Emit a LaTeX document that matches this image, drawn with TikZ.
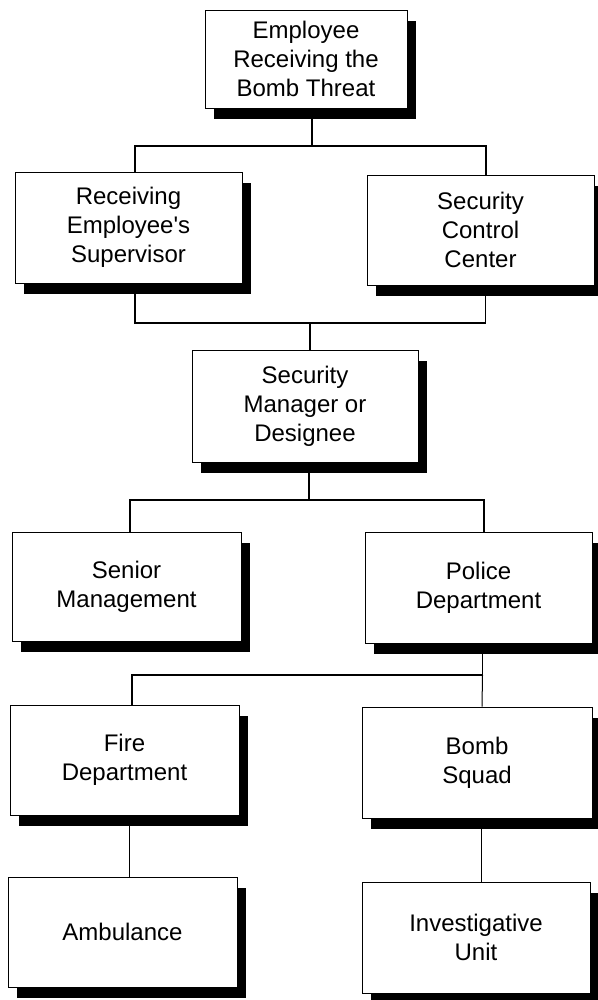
\documentclass[tikz,border=0pt]{standalone}
\usepackage{fontspec}
\setmainfont{Liberation Sans}[Ligatures=TeXOff]
\usetikzlibrary{shadows}
\begin{document}
\begin{tikzpicture}[x=1pt,y=-1pt,
  box/.style={draw=black, line width=0.8pt, fill=white, inner sep=0pt, align=center,
    font=\fontsize{24}{29}\selectfont,
    general shadow={fill=black, shadow xshift=9pt, shadow yshift=-11pt}},
  conn/.style={draw=black, line width=1.5pt},
  thin conn/.style={draw=black, line width=1pt}]
\useasboundingbox (0,0) rectangle (597,1000);
\fill[white] (0,0) rectangle (597,1000);

\node[box, minimum width=202pt, minimum height=98pt]  (top)  at (306,59)    {Employee\\Receiving the\\Bomb Threat};
\node[box, minimum width=227pt, minimum height=111pt] (sup)  at (128.5,227.5) {Receiving\\Employee's\\Supervisor};
\node[box, minimum width=227pt, minimum height=110pt] (scc)  at (480.5,230) {Security\\Control\\Center};
\node[box, minimum width=226pt, minimum height=112pt] (mgr)  at (305,406)   {Security\\Manager or\\Designee};
\node[box, minimum width=229pt, minimum height=109pt] (sen)  at (126.5,586.5) {Senior\\Management};
\node[box, minimum width=227pt, minimum height=111pt] (pol)  at (478.5,587.5) {Police\\Department};
\node[box, minimum width=229pt, minimum height=110pt] (fire) at (124.5,760) {Fire\\Department};
\node[box, minimum width=230pt, minimum height=111pt] (bomb) at (477,762.5) {Bomb\\Squad};
\node[box, minimum width=229pt, minimum height=110pt] (amb)  at (122.5,932) {Ambulance};
\node[box, minimum width=228pt, minimum height=111pt] (inv)  at (476,937.5) {Investigative\\Unit};

\coordinate (bus1) at (310,146);
\coordinate (bus2) at (310,323);
\coordinate (bus3) at (310,500);
\coordinate (bus4) at (310,675);

% top -> row 2
\draw[conn] ([xshift=6pt]top.south) -- ([xshift=6pt]top.south |- bus1);
\draw[conn] ([xshift=6.5pt]sup.north) |- (bus1) -| ([xshift=5.5pt]scc.north);
% row 2 -> manager
\draw[conn] ([xshift=6.5pt]sup.south) |- (bus2) -| ([xshift=5pt]scc.south);
\draw[conn] (bus2) -- ([xshift=5pt]mgr.north);
% manager -> row 3
\draw[conn] ([xshift=4pt]mgr.south) -- ([xshift=4pt]mgr.south |- bus3);
\draw[conn] ([xshift=3.5pt]sen.north) |- (bus3) -| ([xshift=5.5pt]pol.north);
% police -> row 4
\draw[thin conn] ([xshift=4pt]pol.south) -- ([xshift=4pt]pol.south |- bus4);
\draw[conn] ([xshift=7.5pt]fire.north) |- ([xshift=4pt]pol.south |- bus4);
\draw[thin conn] ([xshift=4pt]pol.south |- bus4) -- ([xshift=5pt]bomb.north);
% row 4 -> row 5
\draw[thin conn] ([xshift=5pt]fire.south) -- ([xshift=5pt]fire.south |- amb.north);
\draw[thin conn] ([xshift=4pt]bomb.south) -- ([xshift=4pt]bomb.south |- inv.north);
\end{tikzpicture}
\end{document}
